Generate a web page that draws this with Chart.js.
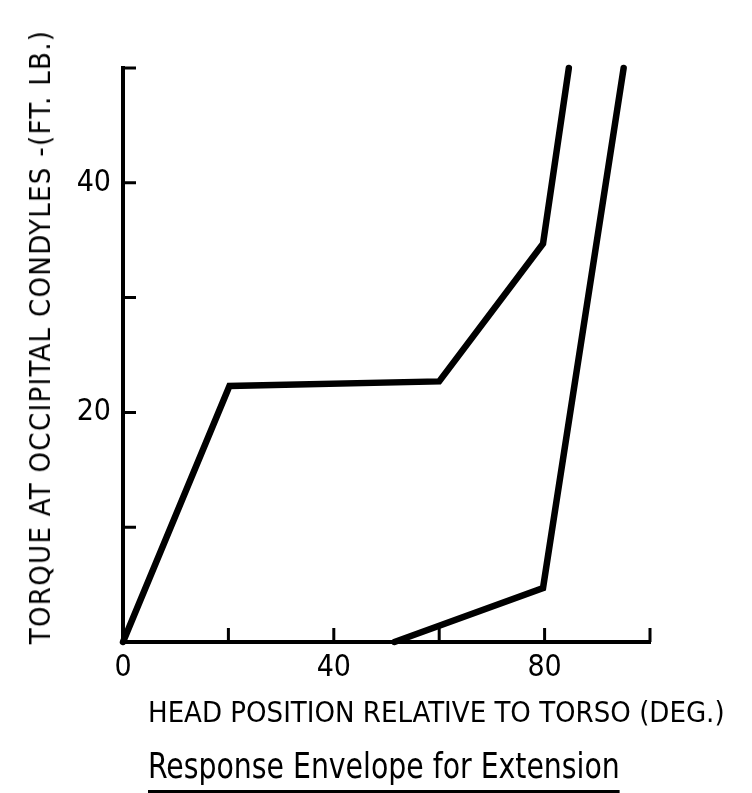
<!DOCTYPE html>
<html>
<head>
<meta charset="utf-8">
<script src="https://cdn.jsdelivr.net/npm/chart.js@4/dist/chart.umd.min.js"></script>
<style>
  body { margin: 0; background: #fff; }
  #wrap { position: relative; width: 752px; height: 793px; overflow: hidden; }
  #chart { position: absolute; left: 0; top: 0; }
  .lbl { position: absolute; font-family: "Liberation Sans Narrow", "DejaVu Sans Condensed", sans-serif; color: #000; white-space: nowrap; }
  #ytitle { font-size: 29px; letter-spacing: 1.3px; left: 40px; top: 337px; transform: translate(-50%, -50%) rotate(-90deg); }
  #xtitle { font-size: 29px; left: 148px; top: 695px; }
  #caption { font-size: 35px; left: 148px; top: 746px; border-bottom: 3px solid #000; padding-bottom: 4px; transform: scaleX(0.9); transform-origin: left top; }
</style>
</head>
<body>
<div id="wrap">
  <canvas id="chart" width="752" height="793"></canvas>
  <div class="lbl" id="ytitle">TORQUE AT OCCIPITAL CONDYLES -(FT. LB.)</div>
  <div class="lbl" id="xtitle">HEAD POSITION RELATIVE TO TORSO (DEG.)</div>
  <div class="lbl" id="caption">Response Envelope for Extension</div>
</div>
<script>
// head position (deg) and torque (ft lb) for the two envelope bounds
var upperX = [0, 20.2, 60, 79.7, 84.6];
var upperY = [0, 22.3, 22.7, 34.7, 50];
var lowerX = [51.5, 79.7, 95];
var lowerY = [0, 4.7, 50];

var xTicks = [0, 20, 40, 60, 80, 100];
var xLabels = [0, 40, 80];
var yTicks = [0, 10, 20, 30, 40, 50];
var yLabels = [20, 40];

function pts(xs, ys) {
  return xs.map(function (x, i) { return { x: x, y: ys[i] }; });
}

var font = { family: "'Liberation Sans Narrow', 'DejaVu Sans Condensed', sans-serif", size: 30 };

// small tick marks pointing into the plot, like the original drawing
var innerTicks = {
  id: "innerTicks",
  afterDraw: function (chart) {
    var c = chart.ctx, xs = chart.scales.x, ys = chart.scales.y;
    var area = chart.chartArea;
    c.save();
    c.strokeStyle = "#000";
    c.lineWidth = 3;
    c.beginPath();
    xTicks.slice(1).forEach(function (v) {
      var px = xs.getPixelForValue(v);
      c.moveTo(px, area.bottom);
      c.lineTo(px, area.bottom - 14);
    });
    yTicks.slice(1).forEach(function (v) {
      var py = ys.getPixelForValue(v);
      c.moveTo(area.left, py);
      c.lineTo(area.left + 13, py);
    });
    c.stroke();
    c.restore();
  }
};

new Chart(document.getElementById("chart").getContext("2d"), {
  type: "scatter",
  data: {
    datasets: [
      { data: pts(upperX, upperY) },
      { data: pts(lowerX, lowerY) }
    ]
  },
  options: {
    responsive: false,
    animation: false,
    layout: { padding: { left: 0, top: 68, right: 102, bottom: 91 } },
    elements: {
      point: { radius: 0 },
      line: { borderWidth: 6.5, borderColor: "#000", borderJoinStyle: "miter", borderCapStyle: "round", tension: 0 }
    },
    datasets: { scatter: { showLine: true, clip: false, borderColor: "#000" } },
    plugins: { legend: { display: false }, tooltip: { enabled: false } },
    scales: {
      x: {
        type: "linear",
        min: 0,
        max: 100,
        afterFit: function (s) { s.height = 60; },
        afterBuildTicks: function (s) { s.ticks = xTicks.map(function (v) { return { value: v }; }); },
        grid: { drawOnChartArea: false, drawTicks: false },
        border: { display: true, color: "#000", width: 4 },
        ticks: {
          color: "#000",
          font: font,
          padding: 8,
          maxRotation: 0,
          callback: function (v) { return xLabels.indexOf(v) >= 0 ? String(v) : ""; }
        }
      },
      y: {
        type: "linear",
        min: 0,
        max: 50,
        afterFit: function (s) { s.width = 123; },
        afterBuildTicks: function (s) { s.ticks = yTicks.map(function (v) { return { value: v }; }); },
        grid: { drawOnChartArea: false, drawTicks: false },
        border: { display: true, color: "#000", width: 4 },
        ticks: {
          color: "#000",
          font: font,
          padding: 12,
          callback: function (v) { return yLabels.indexOf(v) >= 0 ? String(v) : ""; }
        }
      }
    }
  },
  plugins: [innerTicks]
});
</script>
</body>
</html>
